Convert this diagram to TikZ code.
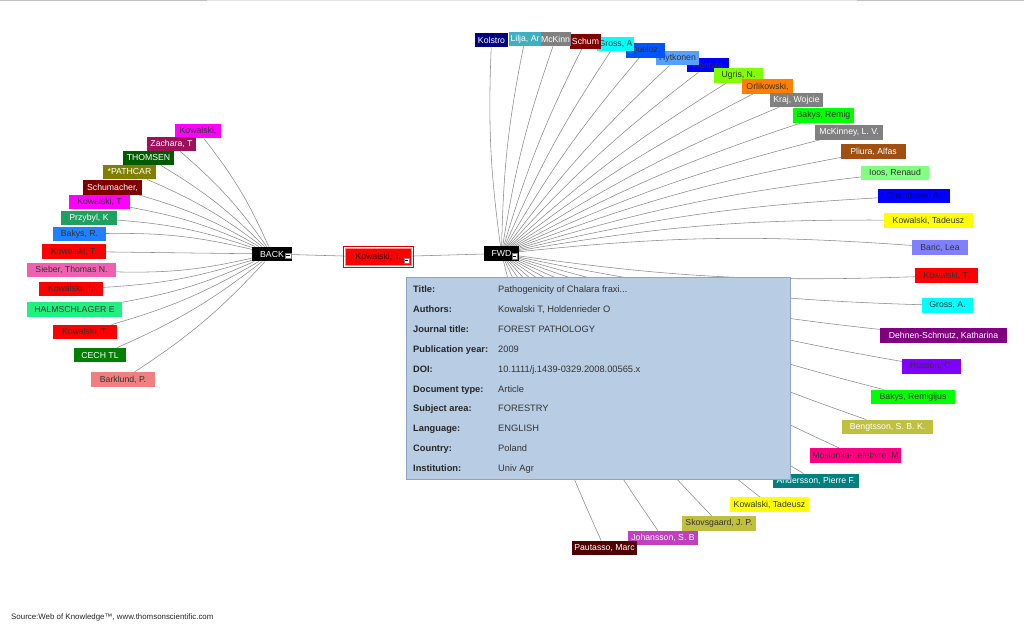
\documentclass[tikz,border=0pt]{standalone}
\usepackage{fontspec}
\setmainfont{Liberation Sans}
\usetikzlibrary{backgrounds}
\pgfdeclarelayer{bottom}
\pgfsetlayers{bottom,background,main}
\definecolor{cMag}{HTML}{FF00FF}
\definecolor{cZach}{HTML}{A0105A}
\definecolor{cDGreen}{HTML}{005A00}
\definecolor{cOlive}{HTML}{808000}
\definecolor{cMaroon}{HTML}{800000}
\definecolor{cPrz}{HTML}{20A060}
\definecolor{cBakR}{HTML}{2080FF}
\definecolor{cRed}{HTML}{FF0000}
\definecolor{cSieb}{HTML}{F060B0}
\definecolor{cHalm}{HTML}{20F080}
\definecolor{cCech}{HTML}{008000}
\definecolor{cBark}{HTML}{F08080}
\definecolor{cNavy}{HTML}{000080}
\definecolor{cLilja}{HTML}{40B0C0}
\definecolor{cGray}{HTML}{808080}
\definecolor{cCyan}{HTML}{00FFFF}
\definecolor{cQuel}{HTML}{0055FF}
\definecolor{cHyt}{HTML}{55A0FF}
\definecolor{cBlue}{HTML}{0000FF}
\definecolor{cUgris}{HTML}{80FF00}
\definecolor{cOrange}{HTML}{FF8000}
\definecolor{cLime}{HTML}{00FF00}
\definecolor{cBrown}{HTML}{A05010}
\definecolor{cIoos}{HTML}{80FF80}
\definecolor{cYellow}{HTML}{FFFF00}
\definecolor{cBaric}{HTML}{8080FF}
\definecolor{cPurple}{HTML}{800080}
\definecolor{cViolet}{HTML}{8000FF}
\definecolor{cKhaki}{HTML}{C0C040}
\definecolor{cPink}{HTML}{FF0080}
\definecolor{cTeal}{HTML}{008080}
\definecolor{cOrchid}{HTML}{C040C0}
\definecolor{cDMaroon}{HTML}{500000}
\definecolor{cInfo}{HTML}{B8CCE4}
\definecolor{cInfoBorder}{HTML}{8CA4C8}
\definecolor{cTxt}{HTML}{333333}
\definecolor{cEdge}{HTML}{8A8A8A}
\begin{document}
\begin{tikzpicture}[x=1pt,y=-1pt,
  lab/.style={rectangle, inner xsep=1pt, inner ysep=0pt, minimum height=14.5pt,
    font=\fontsize{8.7}{10}\selectfont},
  dk/.style={text=black!80},
  wt/.style={text=white},
  edge/.style={draw=cEdge, line width=0.55pt},
  hub/.style={rectangle, fill=black, text=white, inner sep=0pt, minimum height=14.5pt,
    font=\fontsize{8.7}{10}\selectfont},
  minus/.style={rectangle, draw=gray, fill=white, minimum size=5.5pt, inner sep=0pt,
    line width=0.4pt,
    path picture={\draw[black, line width=0.9pt]
      ([xshift=-1.7pt]path picture bounding box.center) --
      ([xshift=1.7pt]path picture bounding box.center);}},
  inflab/.style={anchor=base west, inner sep=0pt, font=\fontsize{9.3}{11}\selectfont\bfseries, text=black!85},
  infval/.style={anchor=base west, inner sep=0pt, font=\fontsize{9.3}{11}\selectfont, text=cTxt}]
\useasboundingbox (0,0) rectangle (1024,635);
\begin{pgfonlayer}{bottom}
\fill[white] (0,0) rectangle (1024,635);
\end{pgfonlayer}
% top rule
\draw[black!25, line width=1pt] (0,0.8) -- (207,0.8);
\draw[black!10, line width=1pt] (207,0.8) -- (857,0.8);
\draw[black!25, line width=1pt] (857,0.8) -- (1024,0.8);

% hubs
\node[hub, minimum width=40pt] (back) at (272,254) {BACK\hspace{8pt}};
\node[minus] (mb) at (288,255.5) {};
\node[rectangle, fill=cRed, draw=white!55!cRed, line width=0.6pt, inner sep=0pt,
  minimum width=66pt, minimum height=17pt, text=black!75!red,
  font=\fontsize{8.7}{10}\selectfont] (kc) at (378.5,257) {Kowalski, T.\hspace{10pt}};
\draw[cRed!85!black, line width=0.8pt] ([shift={(-1.4,-1.4)}]kc.north west) rectangle ([shift={(1.4,1.4)}]kc.south east);
\node[minus] (mk) at (406.5,260.5) {};
\node[hub, minimum width=35pt] (fwd) at (501.5,253.5) {FWD\hspace{7pt}};
\node[minus] (mf) at (514.5,256) {};

% left labels
\node[lab, dk, fill=cMag, minimum width=46pt] (l1) at (198,131) {Kowalski,};
\node[lab, wt, fill=cZach, minimum width=49pt] (l2) at (171.5,144) {Zachara, T};
\node[lab, wt, fill=cDGreen, minimum width=51pt] (l3) at (148.5,158) {THOMSEN};
\node[lab, wt, fill=cOlive, minimum width=53pt] (l4) at (129.5,172) {*PATHCAR};
\node[lab, wt, fill=cMaroon, minimum width=59pt] (l5) at (112.5,187.5) {Schumacher,};
\node[lab, dk, fill=cMag, minimum width=61pt] (l6) at (99.5,202) {Kowalski, T};
\node[lab, wt, fill=cPrz, minimum width=56pt] (l7) at (89,218) {Przybyl, K};
\node[lab, dk, fill=cBakR, minimum width=53pt] (l8) at (79.5,234) {Bakys, R.};
\node[lab, dk, fill=cRed, minimum width=64pt] (l9) at (74,251.5) {Kowalski, T.};
\node[lab, dk, fill=cSieb, minimum width=89pt] (l10) at (71.5,270) {Sieber, Thomas N.};
\node[lab, dk, fill=cRed, minimum width=64pt] (l11) at (71,289) {Kowalski, T.};
\node[lab, dk, fill=cHalm, minimum width=95pt] (l12) at (74.5,309.5) {HALMSCHLAGER E};
\node[lab, dk, fill=cRed, minimum width=64pt] (l13) at (85,332) {Kowalski, T.};
\node[lab, wt, fill=cCech, minimum width=52pt] (l14) at (100,355) {CECH TL};
\node[lab, dk, fill=cBark, minimum width=64pt] (l15) at (123,379.5) {Barklund, P.};

% right labels (top row drawn right to left)
\node[lab, dk, fill=cBlue, minimum width=42pt] (r8) at (708,65) {Hantula};
\node[lab, dk, fill=cHyt, minimum width=43pt] (r7) at (677.5,58) {Hytkonen};
\node[lab, dk, fill=cQuel, minimum width=39pt] (r6) at (645.5,50.5) {Queloz,};
\node[lab, dk, fill=cCyan, minimum width=37pt] (r5) at (615.5,44) {Gross, A};
\node[lab, wt, fill=cMaroon, minimum width=31pt] (r4) at (585.5,41.5) {Schum};
\node[lab, wt, fill=cGray, minimum width=29pt] (r3) at (555.5,39) {McKinn};
\node[lab, wt, fill=cLilja, minimum width=32pt] (r2) at (525,39) {Lilja, Ar};
\node[lab, wt, fill=cNavy, minimum width=33pt] (r1) at (491.5,40) {Kolstro};
\node[lab, dk, fill=cUgris, minimum width=49pt] (r9) at (738.5,75.5) {Ugris, N.};
\node[lab, dk, fill=cOrange, minimum width=51pt] (r10) at (767.5,86.5) {Orlikowski,};
\node[lab, wt, fill=cGray, minimum width=53pt] (r11) at (796.5,100) {Kraj, Wojcie};
\node[lab, dk, fill=cLime, minimum width=61pt] (r12) at (823.5,115.5) {Bakys, Remig};
\node[lab, wt, fill=cGray, minimum width=68pt] (r13) at (849,132.5) {McKinney, L. V.};
\node[lab, wt, fill=cBrown, minimum width=65pt] (r14) at (873.5,151.5) {Pliura, Alfas};
\node[lab, dk, fill=cIoos, minimum width=68pt] (r15) at (895,173) {Ioos, Renaud};
\node[lab, text=cNavy!80!black, fill=cBlue, minimum width=72pt] (r16) at (914,196) {Chandelier, A.};
\node[lab, dk, fill=cYellow, minimum width=89pt] (r17) at (928.5,220.5) {Kowalski, Tadeusz};
\node[lab, dk, fill=cBaric, minimum width=56pt] (r18) at (940,247.5) {Baric, Lea};
\node[lab, dk, fill=cRed, minimum width=63pt] (r19) at (946.5,275.5) {Kowalski, T.};
\node[lab, dk, fill=cCyan, minimum width=51pt] (r20) at (947.5,305.5) {Gross, A.};
\node[lab, wt, fill=cPurple, minimum width=127pt] (r21) at (943.5,335.5) {Dehnen-Schmutz, Katharina};
\node[lab, dk, fill=cViolet, minimum width=59pt] (r22) at (931.5,366.5) {Husson, C.};
\node[lab, dk, fill=cLime, minimum width=84pt] (r23) at (913,397) {Bakys, Remigijus};
\node[lab, wt, fill=cKhaki, minimum width=91pt] (r24) at (887.5,427) {Bengtsson, S. B. K.};
\node[lab, dk, fill=cPink, minimum width=91pt] (r25) at (855.5,455.5) {Moslonka-Lefebvre, M};
\node[lab, wt, fill=cTeal, minimum width=86pt] (r26) at (816,481) {Andersson, Pierre F.};
\node[lab, dk, fill=cYellow, minimum width=79pt] (r27) at (769.5,504.5) {Kowalski, Tadeusz};
\node[lab, dk, fill=cKhaki, minimum width=74pt] (r28) at (719,523.5) {Skovsgaard, J. P.};
\node[lab, wt, fill=cOrchid, minimum width=70pt] (r29) at (663,538) {Johansson, S. B};
\node[lab, wt, fill=cDMaroon, minimum width=65pt] (r30) at (604.5,548) {Pautasso, Marc};

% connectors
\begin{scope}[on background layer]
\draw[edge] (back) -- (kc);
\draw[edge] (kc) -- (fwd);
\foreach \i in {1,...,8} {\draw[edge] (back) to[bend right=7] (l\i);}
\draw[edge] (back) to (l9);
\foreach \i in {10,...,15} {\draw[edge] (back) to[bend left=7] (l\i);}
\foreach \i in {1,...,18} {\draw[edge] (fwd) to[bend left=5] (r\i);}
\foreach \i in {19,...,30} {\draw[edge] (fwd) to[bend right=5] (r\i);}
\end{scope}

% info box
\node[draw=cInfoBorder, fill=cInfo, line width=1pt, inner sep=0pt, anchor=north west,
  minimum width=384pt, minimum height=202pt] (info) at (406,277) {};
\node[inflab] (k1) at (413,292.3) {Title:};
\node[infval] (v1) at (498,292.3) {Pathogenicity of Chalara fraxi...};
\node[inflab] (k2) at (413,312.3) {Authors:};
\node[infval] (v2) at (498,312.3) {Kowalski T, Holdenrieder O};
\node[inflab] (k3) at (413,332.3) {Journal title:};
\node[infval] (v3) at (498,332.3) {FOREST PATHOLOGY};
\node[inflab] (k4) at (413,352.3) {Publication year:};
\node[infval] (v4) at (498,352.3) {2009};
\node[inflab] (k5) at (413,372.3) {DOI:};
\node[infval] (v5) at (498,372.3) {10.1111/j.1439-0329.2008.00565.x};
\node[inflab] (k6) at (413,392.3) {Document type:};
\node[infval] (v6) at (498,392.3) {Article};
\node[inflab] (k7) at (413,411.8) {Subject area:};
\node[infval] (v7) at (498,411.8) {FORESTRY};
\node[inflab] (k8) at (413,431.8) {Language:};
\node[infval] (v8) at (498,431.8) {ENGLISH};
\node[inflab] (k9) at (413,451.8) {Country:};
\node[infval] (v9) at (498,451.8) {Poland};
\node[inflab] (k10) at (413,471.3) {Institution:};
\node[infval] (v10) at (498,471.3) {Univ Agr};

% source
\node[anchor=west, inner sep=0pt, font=\fontsize{7.9}{9}\selectfont, text=black!85] (src) at (11,617)
  {Source:Web of Knowledge™, www.thomsonscientific.com};
\end{tikzpicture}
\end{document}
